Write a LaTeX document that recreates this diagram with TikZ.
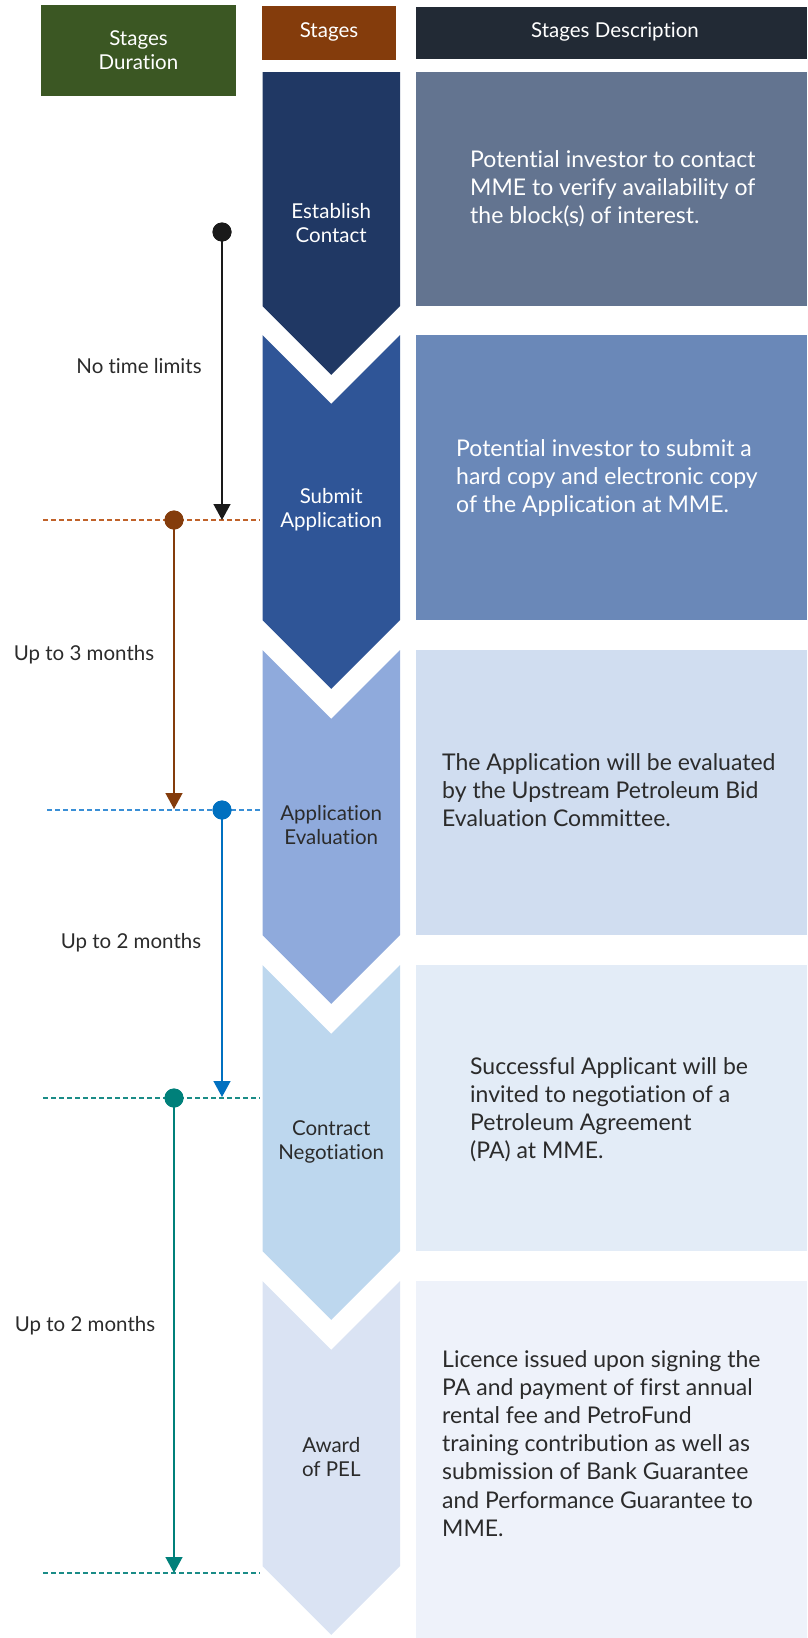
\documentclass[tikz,border=0pt]{standalone}
\usepackage{fontspec}
\setmainfont{Lato}[Ligatures={NoCommon}]
\usetikzlibrary{arrows.meta}
\definecolor{hgreen}{HTML}{3B5723}
\definecolor{hbrown}{HTML}{843C0C}
\definecolor{hdark}{HTML}{222A35}
\definecolor{cA}{HTML}{203864}
\definecolor{cB}{HTML}{2F5597}
\definecolor{cC}{HTML}{8FAADC}
\definecolor{cD}{HTML}{BDD7EE}
\definecolor{cE}{HTML}{DAE3F3}
\definecolor{dA}{HTML}{637490}
\definecolor{dB}{HTML}{6A88B8}
\definecolor{dC}{HTML}{D0DDF0}
\definecolor{dD}{HTML}{E3ECF7}
\definecolor{dE}{HTML}{EEF2FA}
\definecolor{txt}{HTML}{2B2B2B}
\definecolor{lblack}{HTML}{1A1A1A}
\definecolor{lbrown}{HTML}{843C0C}
\definecolor{lbrownd}{HTML}{C0622A}
\definecolor{lblue}{HTML}{0070C0}
\definecolor{lblued}{HTML}{3A8FD6}
\definecolor{lteal}{HTML}{00807A}
\definecolor{ltealdd}{HTML}{1A8C87}
\begin{document}
\begin{tikzpicture}[x=1pt,y=-1pt,
  hdr/.style={text=white,align=center,font=\fontsize{20.5}{24}\selectfont},
  chevlabel/.style={align=center,font=\fontsize{20.5}{24}\selectfont},
  desc/.style={anchor=north west,inner sep=0pt,align=left,font=\fontsize{23}{28.2}\selectfont},
  dur/.style={text=txt,font=\fontsize{20.5}{24}\selectfont},
  dot/.style={circle,inner sep=0pt,minimum size=19pt},
  tl/.style={line width=1.4pt,-{Triangle[width=17pt,length=16pt]}},
  guide/.style={line width=1.2pt,dash pattern=on 4.5pt off 3.5pt}
]
\useasboundingbox (0,0) rectangle (807,1638);
% headers
\fill[hgreen] (41,5) rectangle (236,96);
\node[hdr] (h1) at (138.5,50) {Stages\\Duration};
\fill[hbrown] (262,6) rectangle (396,60);
\node[hdr] (h2) at (329,32) {Stages};
\fill[hdark] (416,7) rectangle (807,59);
\node[hdr] (h3) at (615,32) {Stages Description};
% chevrons
\fill[cA] (262.5,72) -- (400,72) -- (400,306) -- (331.25,374.75) -- (262.5,306) -- cycle;
\fill[cB] (262.5,335) -- (331.25,403.75) -- (400,335) -- (400,620) -- (331.25,688.75) -- (262.5,620) -- cycle;
\fill[cC] (262.5,650) -- (331.25,718.75) -- (400,650) -- (400,935) -- (331.25,1003.75) -- (262.5,935) -- cycle;
\fill[cD] (262.5,965) -- (331.25,1033.75) -- (400,965) -- (400,1251) -- (331.25,1319.75) -- (262.5,1251) -- cycle;
\fill[cE] (262.5,1281) -- (331.25,1349.75) -- (400,1281) -- (400,1566) -- (331.25,1634.75) -- (262.5,1566) -- cycle;
\node[chevlabel,text=white] (s1) at (331.25,223) {Establish\\Contact};
\node[chevlabel,text=white] (s2) at (331.25,510) {Submit\\Application};
\node[chevlabel,text=txt] (s3) at (331.25,825) {Application\\Evaluation};
\node[chevlabel,text=txt] (s4) at (331.25,1141.5) {Contract\\Negotiation};
\node[chevlabel,text=txt] (s5) at (331.25,1457) {Award\\of PEL};
% description boxes
\fill[dA] (416,72) rectangle (807,306);
\fill[dB] (416,335) rectangle (807,620);
\fill[dC] (416,650) rectangle (807,935);
\fill[dD] (416,965) rectangle (807,1251);
\fill[dE] (416,1281) rectangle (807,1638);
\node[desc,text=white] (t1) at (470,150) {Potential investor to contact\\MME to verify availability of\\the block(s) of interest.};
\node[desc,text=white] (t2) at (456,439) {Potential investor to submit a\\hard copy and electronic copy\\of the Application at MME.};
\node[desc,text=txt] (t3) at (442,753) {The Application will be evaluated\\by the Upstream Petroleum Bid\\Evaluation Committee.};
\node[desc,text=txt] (t4) at (470,1057) {Successful Applicant will be\\invited to negotiation of a\\Petroleum Agreement\\(PA) at MME.};
\node[desc,text=txt] (t5) at (442,1350) {Licence issued upon signing the\\PA and payment of first annual\\rental fee and PetroFund\\training contribution as well as\\submission of Bank Guarantee\\and Performance Guarantee to\\MME.};
% guide lines
\coordinate (g1a) at (43,520); \coordinate (g1b) at (260,520);
\coordinate (g2a) at (47,810); \coordinate (g2b) at (263,810);
\coordinate (g3a) at (43,1098); \coordinate (g3b) at (260,1098);
\coordinate (g4a) at (43,1573); \coordinate (g4b) at (260,1573);
\draw[guide,lbrownd] (g1a) -- (g1b);
\draw[guide,lblued] (g2a) -- (g2b);
\draw[guide,ltealdd] (g3a) -- (g3b);
\draw[guide,ltealdd] (g4a) -- (g4b);
% timeline
\node[dot,fill=lblack] (p1) at (222,232) {};
\coordinate (e1) at (222,520);
\draw[tl,lblack] (p1.center) -- (e1);
\node[dot,fill=lbrown] (p2) at (174,520) {};
\coordinate (e2) at (174,809);
\draw[tl,lbrown] (p2.center) -- (e2);
\node[dot,fill=lblue] (p3) at (222,810) {};
\coordinate (e3) at (222,1097);
\draw[tl,lblue] (p3.center) -- (e3);
\node[dot,fill=lteal] (p4) at (174,1098) {};
\coordinate (e4) at (174,1573);
\draw[tl,lteal] (p4.center) -- (e4);
\fill[lblack] (p1) circle (9.5);
\fill[lbrown] (p2) circle (9.5);
\fill[lblue] (p3) circle (9.5);
\fill[lteal] (p4) circle (9.5);
% durations
\node[dur] (l1) at (139,366) {No time limits};
\node[dur] (l2) at (84,655) {Up to 3 months};
\node[dur] (l3) at (131,943) {Up to 2 months};
\node[dur] (l4) at (85,1326) {Up to 2 months};
\end{tikzpicture}
\end{document}
